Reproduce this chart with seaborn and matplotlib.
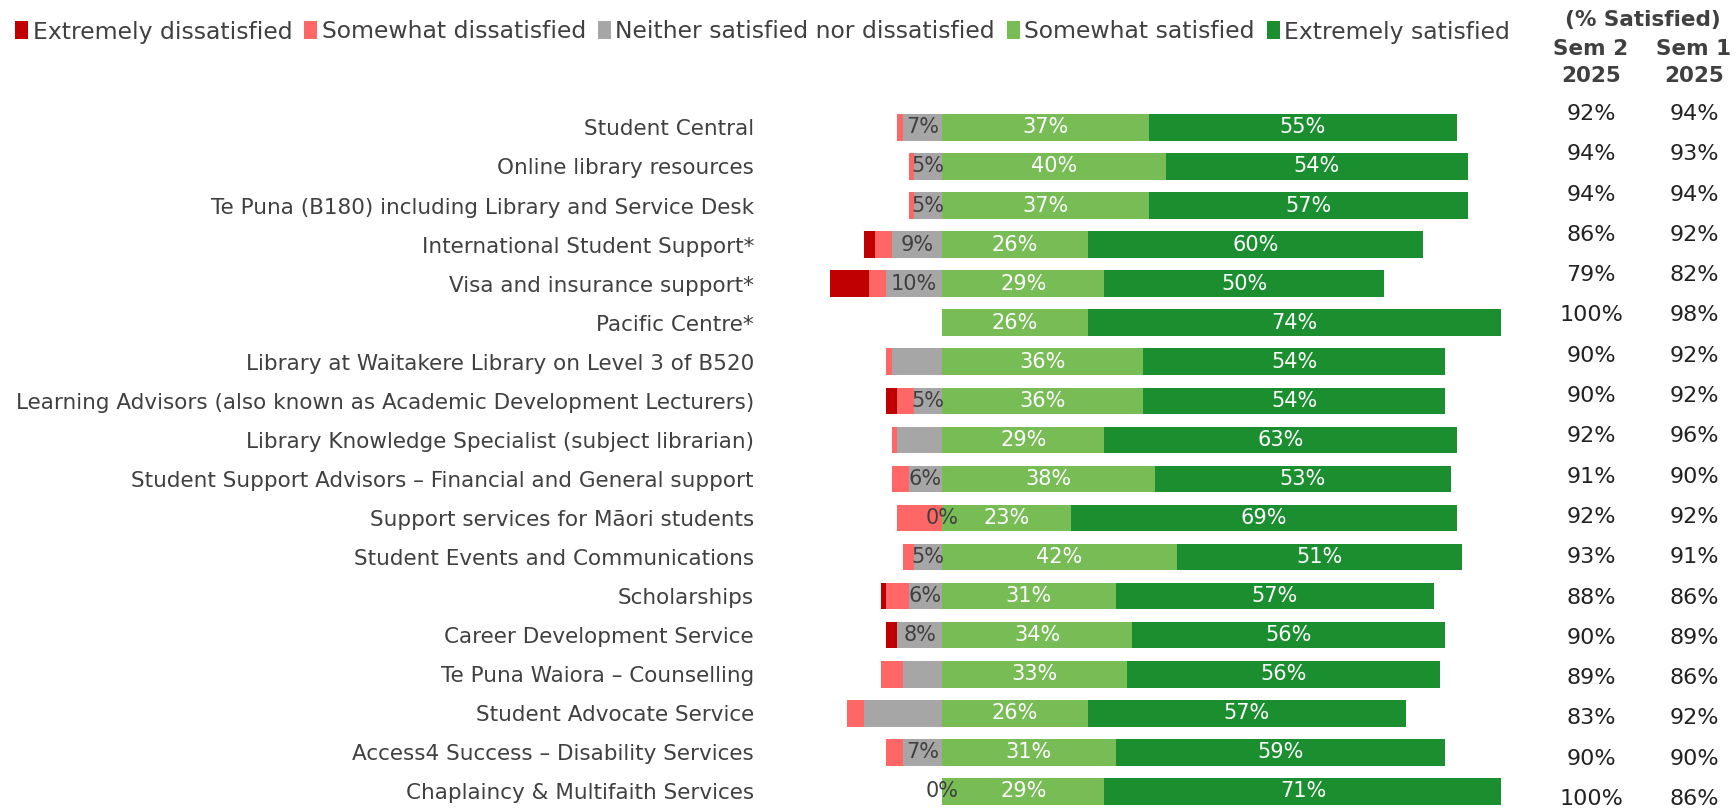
import numpy as np
import pandas as pd
import matplotlib
matplotlib.use("Agg")
import matplotlib.pyplot as plt
import seaborn as sns
from matplotlib.patches import Patch

# Services, top to bottom
services = [
    "Student Central",
    "Online library resources",
    "Te Puna (B180) including Library and Service Desk",
    "International Student Support*",
    "Visa and insurance support*",
    "Pacific Centre*",
    "Library at Waitakere Library on Level 3 of B520",
    "Learning Advisors (also known as Academic Development Lecturers)",
    "Library Knowledge Specialist (subject librarian)",
    "Student Support Advisors \u2013 Financial and General support",
    "Support services for M\u0101ori students",
    "Student Events and Communications",
    "Scholarships",
    "Career Development Service",
    "Te Puna Waiora \u2013 Counselling",
    "Student Advocate Service",
    "Access4 Success \u2013 Disability Services",
    "Chaplaincy & Multifaith Services",
]

# Response shares (%)
extremely_dissatisfied = [0, 0, 0, 2, 7, 0, 0, 2, 0, 0, 0, 0, 1, 2, 0, 0, 0, 0]
somewhat_dissatisfied = [1, 1, 1, 3, 3, 0, 1, 3, 1, 3, 8, 2, 4, 0, 4, 3, 3, 0]
neither = [7, 5, 5, 9, 10, 0, 9, 5, 8, 6, 0, 5, 6, 8, 7, 14, 7, 0]
somewhat_satisfied = [37, 40, 37, 26, 29, 26, 36, 36, 29, 38, 23, 42, 31, 34, 33, 26, 31, 29]
extremely_satisfied = [55, 54, 57, 60, 50, 74, 54, 54, 63, 53, 69, 51, 57, 56, 56, 57, 59, 71]

# labels shown on the neutral segment ('' = hidden in the original)
neither_labels = ["7%", "5%", "5%", "9%", "10%", "", "", "5%", "", "6%", "0%", "5%",
                  "6%", "8%", "", "", "7%", "0%"]

# % satisfied summary columns
sem2_2025 = ["92%", "94%", "94%", "86%", "79%", "100%", "90%", "90%", "92%", "91%",
             "92%", "93%", "88%", "90%", "89%", "83%", "90%", "100%"]
sem1_2025 = ["94%", "93%", "94%", "92%", "82%", "98%", "92%", "92%", "96%", "90%",
             "92%", "91%", "86%", "89%", "86%", "92%", "90%", "86%"]

colors = {
    "Extremely dissatisfied": "#C00000",
    "Somewhat dissatisfied": "#FF6666",
    "Neither satisfied nor dissatisfied": "#A6A6A6",
    "Somewhat satisfied": "#78BC55",
    "Extremely satisfied": "#1B8F2F",
}
text_col = "#404040"

df = pd.DataFrame({
    "service": services,
    "ext_dis": extremely_dissatisfied,
    "som_dis": somewhat_dissatisfied,
    "neither": neither,
    "som_sat": somewhat_satisfied,
    "ext_sat": extremely_satisfied,
})

sns.set_style("white")
plt.rcParams["font.family"] = ["DejaVu Sans"]

fig = plt.figure(figsize=(17.36, 8.11), dpi=100)
ax = fig.add_axes([0.4435, 0.0, 0.432, 0.867])

bar_w = 0.68
# stacked via overlapping cumulative bars (widest first)
layers = [
    (-(df.neither + df.som_dis + df.ext_dis), "Extremely dissatisfied"),
    (-(df.neither + df.som_dis), "Somewhat dissatisfied"),
    (-df.neither, "Neither satisfied nor dissatisfied"),
    (df.som_sat + df.ext_sat, "Extremely satisfied"),
    (df.som_sat, "Somewhat satisfied"),
]
for vals, name in layers:
    sns.barplot(x=vals.values, y=df.service, orient="h", color=colors[name],
                saturation=1, width=bar_w, linewidth=0, ax=ax, errorbar=None)

# segment labels
lab_fs = 15
for i, row in df.iterrows():
    if neither_labels[i]:
        ax.text(-row.neither / 2, i, neither_labels[i], ha="center", va="center",
                fontsize=lab_fs, color=text_col)
    ax.text(row.som_sat / 2, i, f"{row.som_sat}%", ha="center", va="center",
            fontsize=lab_fs, color="white")
    ax.text(row.som_sat + row.ext_sat / 2, i, f"{row.ext_sat}%", ha="center",
            va="center", fontsize=lab_fs, color="white")

ax.set_xlim(-30.8, 103.3)
ax.set_ylim(len(services) - 0.5, -0.5)
ax.set_xlabel("")
ax.set_ylabel("")
ax.set_xticks([])
ax.tick_params(axis="y", length=0, pad=11.5, labelsize=15.5, labelcolor=text_col)
sns.despine(ax=ax, left=True, bottom=True)

# legend
handles = [Patch(facecolor=c, edgecolor="none") for c in colors.values()]
fig.legend(handles, list(colors.keys()), loc="center left", bbox_to_anchor=(0.0, 1 - 32 / 811),
           ncol=5, frameon=False, fontsize=16.9, handlelength=0.55, handleheight=0.8,
           handletextpad=0.2, columnspacing=0.5, labelcolor=text_col, borderaxespad=0.25)

# summary columns
W, H = 1736, 811
hdr_fs = 15.5
fig.text(1643 / W, 1 - 20 / H, "(% Satisfied)", ha="center", va="center",
         fontsize=hdr_fs, fontweight="bold", color=text_col)
for x_px, title in [(1591, "Sem 2"), (1694, "Sem 1")]:
    fig.text(x_px / W, 1 - 49 / H, title, ha="center", va="center",
             fontsize=hdr_fs, fontweight="bold", color=text_col)
    fig.text(x_px / W, 1 - 76 / H, "2025", ha="center", va="center",
             fontsize=hdr_fs, fontweight="bold", color=text_col)

row_y = np.linspace(114, 799, len(services))
for y_px, s2, s1 in zip(row_y, sem2_2025, sem1_2025):
    fig.text(1591 / W, 1 - y_px / H, s2, ha="center", va="center", fontsize=16, color="#222222")
    fig.text(1694 / W, 1 - y_px / H, s1, ha="center", va="center", fontsize=16, color="#222222")

fig.savefig("out.png", dpi=100)
